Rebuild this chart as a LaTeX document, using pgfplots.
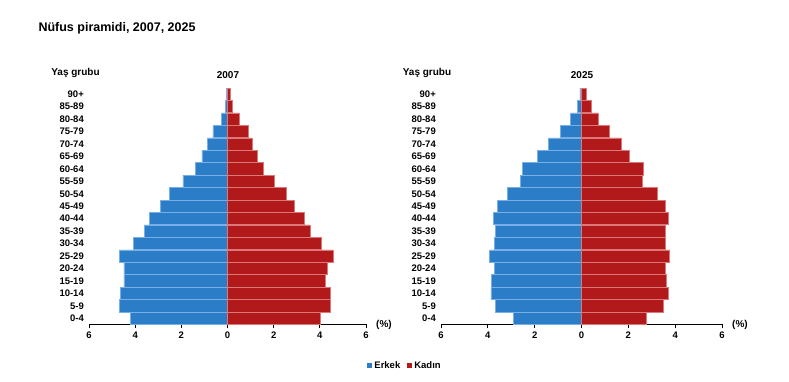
\documentclass[border=0pt]{standalone}
\usepackage{pgfplots}
\pgfplotsset{compat=1.18}
\usepackage{fontspec}
\setmainfont{Liberation Sans}
\definecolor{erkek}{RGB}{44,125,200}
\definecolor{erkekedge}{RGB}{120,175,230}
\definecolor{kadin}{RGB}{178,25,27}
\definecolor{kadinedge}{RGB}{220,120,120}
\pgfplotsset{
  pyr/.style={
    scale only axis, height=236.5pt,
    xmin=-6, xmax=6, ymin=-0.5, ymax=18.5,
    xbar, bar width=12.3pt, bar shift=0pt,
    axis x line*=bottom, axis y line*=left,
    y axis line style={draw=none},
    ytick style={draw=none},
    xtick={-6,-4,-2,0,2,4,6},
    xticklabels={6,4,2,0,2,4,6},
    xtick align=outside,
    major tick length=4pt,
    x axis line style={black, line width=0.9pt},
    xtick style={black, line width=0.9pt},
    ytick={0,...,18},
    yticklabels={0-4,5-9,10-14,15-19,20-24,25-29,30-34,35-39,40-44,45-49,50-54,55-59,60-64,65-69,70-74,75-79,80-84,85-89,90+},
    ticklabel style={font=\bfseries\fontsize{9.5}{11}\selectfont},
    yticklabel style={anchor=east, inner sep=0pt, xshift=-1pt},
    xticklabel style={inner sep=1pt, yshift=-2pt},
    /pgf/number format/assume math mode=true,
    clip=false,
  },
  men/.style={fill=erkek, draw=erkekedge, line width=0.7pt},
  women/.style={fill=kadin, draw=kadinedge, line width=0.7pt},
}
\begin{document}
\begin{tikzpicture}
\useasboundingbox (0,0) rectangle (789pt,382pt);
\node[anchor=west, font=\bfseries\fontsize{12.5}{15}\selectfont] at (35pt,354pt) {Nüfus piramidi, 2007, 2025};
% left: 2007
\begin{axis}[pyr, at={(89pt,57.5pt)}, anchor=south west, width=277pt,
  legend style={at={(1.141,-0.175)}, anchor=center, draw=none, fill=none,
    legend columns=2, font=\bfseries\fontsize{9.5}{11}\selectfont,
    /tikz/every even column/.append style={column sep=5pt}},
  legend image code/.code={\fill[#1,draw=none] (0pt,-2.5pt) rectangle (5pt,2.5pt);}]
\addplot[men] coordinates {
(-4.20,0) (-4.68,1) (-4.65,2) (-4.49,3) (-4.49,4) (-4.69,5) (-4.08,6) (-3.61,7) (-3.38,8) (-2.89,9)
(-2.50,10) (-1.93,11) (-1.39,12) (-1.11,13) (-0.87,14) (-0.63,15) (-0.27,16) (-0.09,17) (-0.04,18)};
\addplot[women] coordinates {
(4.01,0) (4.44,1) (4.44,2) (4.24,3) (4.33,4) (4.57,5) (4.05,6) (3.58,7) (3.33,8) (2.90,9)
(2.54,10) (2.03,11) (1.56,12) (1.30,13) (1.07,14) (0.91,15) (0.52,16) (0.20,17) (0.14,18)};
\legend{Erkek,Kadın}
\end{axis}
% right: 2025
\begin{axis}[pyr, at={(441pt,57.5pt)}, anchor=south west, width=281pt]
\addplot[men] coordinates {
(-2.89,0) (-3.68,1) (-3.87,2) (-3.83,3) (-3.73,4) (-3.92,5) (-3.73,6) (-3.69,7) (-3.76,8) (-3.60,9)
(-3.16,10) (-2.62,11) (-2.51,12) (-1.87,13) (-1.41,14) (-0.90,15) (-0.46,16) (-0.19,17) (-0.07,18)};
\addplot[women] coordinates {
(2.75,0) (3.49,1) (3.69,2) (3.63,3) (3.56,4) (3.77,5) (3.60,6) (3.60,7) (3.72,8) (3.58,9)
(3.22,10) (2.59,11) (2.62,12) (2.04,13) (1.70,14) (1.18,15) (0.71,16) (0.40,17) (0.21,18)};
\end{axis}
\begin{scope}[every node/.style={font=\bfseries\fontsize{10}{12}\selectfont}]
\node at (75.5pt,309pt) {Yaş grubu};
\node at (228pt,307pt) {2007};
\node at (384pt,57pt) {(\%)};
\node at (427pt,309pt) {Yaş grubu};
\node at (582pt,307pt) {2025};
\node at (740pt,57pt) {(\%)};
\end{scope}
\end{tikzpicture}
\end{document}
